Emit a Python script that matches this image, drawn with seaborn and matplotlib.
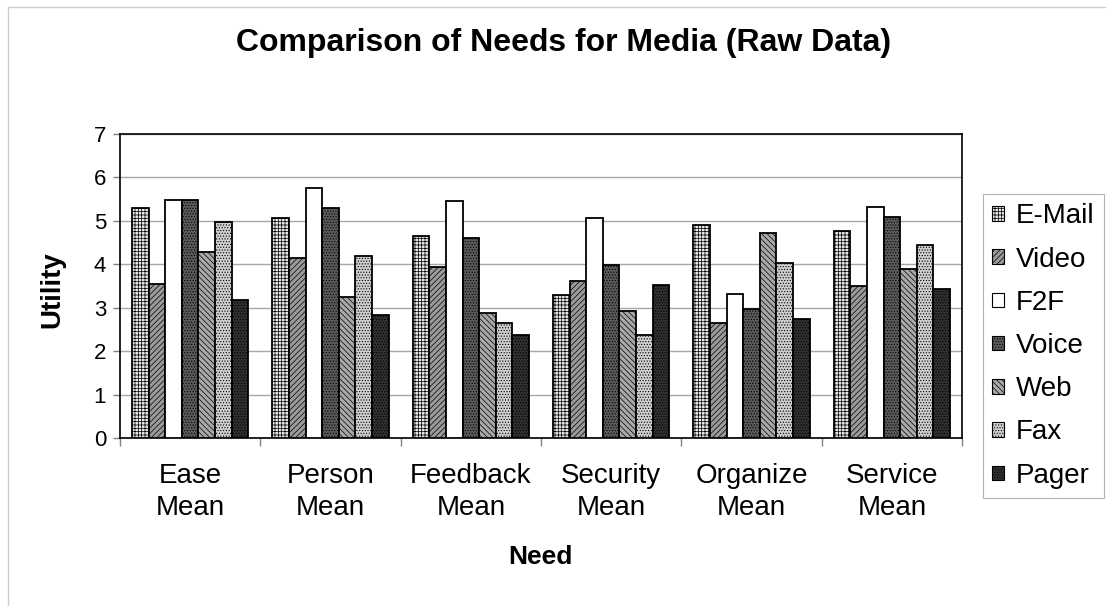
import matplotlib
matplotlib.use("Agg")
import matplotlib.pyplot as plt
from matplotlib.patches import Rectangle, Patch
import seaborn as sns
import pandas as pd

# Mean utility of each communication medium per need category
needs = ["Ease\nMean", "Person\nMean", "Feedback\nMean",
         "Security\nMean", "Organize\nMean", "Service\nMean"]
media = ["E-Mail", "Video", "F2F", "Voice", "Web", "Fax", "Pager"]

email = [5.29, 5.07, 4.65, 3.29, 4.90, 4.77]
video = [3.54, 4.15, 3.93, 3.61, 2.65, 3.49]
f2f = [5.47, 5.75, 5.45, 5.07, 3.31, 5.31]
voice = [5.47, 5.30, 4.61, 3.98, 2.98, 5.08]
web = [4.28, 3.24, 2.87, 2.92, 4.71, 3.89]
fax = [4.97, 4.19, 2.65, 2.37, 4.02, 4.44]
pager = [3.18, 2.84, 2.38, 3.52, 2.75, 3.44]

series = [email, video, f2f, voice, web, fax, pager]
df = pd.DataFrame(
    [(n, m, v) for m, vals in zip(media, series) for n, v in zip(needs, vals)],
    columns=["Need", "Medium", "Utility"],
)

# Grayscale fills with texture hatches
fills = ["#e6e6e6", "#9a9a9a", "#ffffff", "#5a5a5a", "#a8a8a8", "#cfcfcf", "#303030"]
hatches = ["+++++", "//////", "", "......", "\\\\\\\\\\\\", "......", "......"]

sns.set_style("white")
plt.rcParams["font.family"] = ["Liberation Sans", "DejaVu Sans"]
plt.rcParams["text.color"] = "black"
plt.rcParams["xtick.color"] = "black"
plt.rcParams["ytick.color"] = "black"
plt.rcParams["xtick.labelcolor"] = "black"
plt.rcParams["ytick.labelcolor"] = "black"
plt.rcParams["hatch.linewidth"] = 0.5

W, H = 1106, 606
fig = plt.figure(figsize=(W / 100, H / 100), dpi=100)
ax = fig.add_axes([120 / W, 1 - 438 / H, 842 / W, 304 / H])

sns.barplot(data=df, x="Need", y="Utility", hue="Medium", hue_order=media,
            palette=fills, saturation=1, width=0.83, gap=0,
            edgecolor="black", linewidth=1.3, legend=False, ax=ax, zorder=3)

for cont, h in zip(ax.containers, hatches):
    for bar in cont:
        bar.set_hatch(h)

ax.set_ylim(0, 7)
ax.set_yticks(range(0, 8))
ax.set_xlim(-0.5, len(needs) - 0.5)
ax.yaxis.grid(True, color="#a8a8a8", linewidth=1, zorder=0)
ax.set_axisbelow(True)
for s in ax.spines.values():
    s.set_visible(True)
    s.set_color("black")
    s.set_linewidth(1.2)

ax.tick_params(axis="y", direction="out", length=5, width=1, color="#808080",
               labelsize=16, left=True, pad=5)
ax.tick_params(axis="x", which="major", length=0, labelsize=20, pad=18)
ax.set_xticks([i + 0.5 for i in range(-1, len(needs))], minor=True)
ax.tick_params(axis="x", which="minor", direction="out", length=6, width=1,
               color="#808080", bottom=True)
for lbl in ax.get_xticklabels():
    lbl.set_linespacing(1.32)
ax.set_xlabel("")
ax.set_ylabel("")

fig.text(564 / W, 1 - 43 / H, "Comparison of Needs for Media (Raw Data)",
         ha="center", va="center", fontsize=23, fontweight="bold")
fig.text(52 / W, 1 - 290 / H, "Utility", rotation=90, ha="center",
         va="center", fontsize=20, fontweight="bold")
fig.text(540 / W, 1 - 557 / H, "Need", ha="center", va="center",
         fontsize=19, fontweight="bold")

handles = [Patch(facecolor=f, edgecolor="black", hatch=h, linewidth=0.8)
           for f, h in zip(fills, hatches)]
leg = fig.legend(handles=handles, labels=media, loc="center left",
                 bbox_to_anchor=(983 / W, 1 - 346 / H), fontsize=20,
                 handlelength=0.42, handleheight=0.42, handletextpad=0.45,
                 labelspacing=0.62, borderpad=0.32, borderaxespad=0,
                 frameon=True, fancybox=False)
leg.get_frame().set_edgecolor("#a0a0a0")
leg.get_frame().set_linewidth(0.8)

fig.patches.append(Rectangle((8 / W, -0.1), 1.2, 1.1 - 7 / H, fill=False,
                             edgecolor="#cccccc", linewidth=1,
                             transform=fig.transFigure))

fig.savefig("out.png", dpi=100)
